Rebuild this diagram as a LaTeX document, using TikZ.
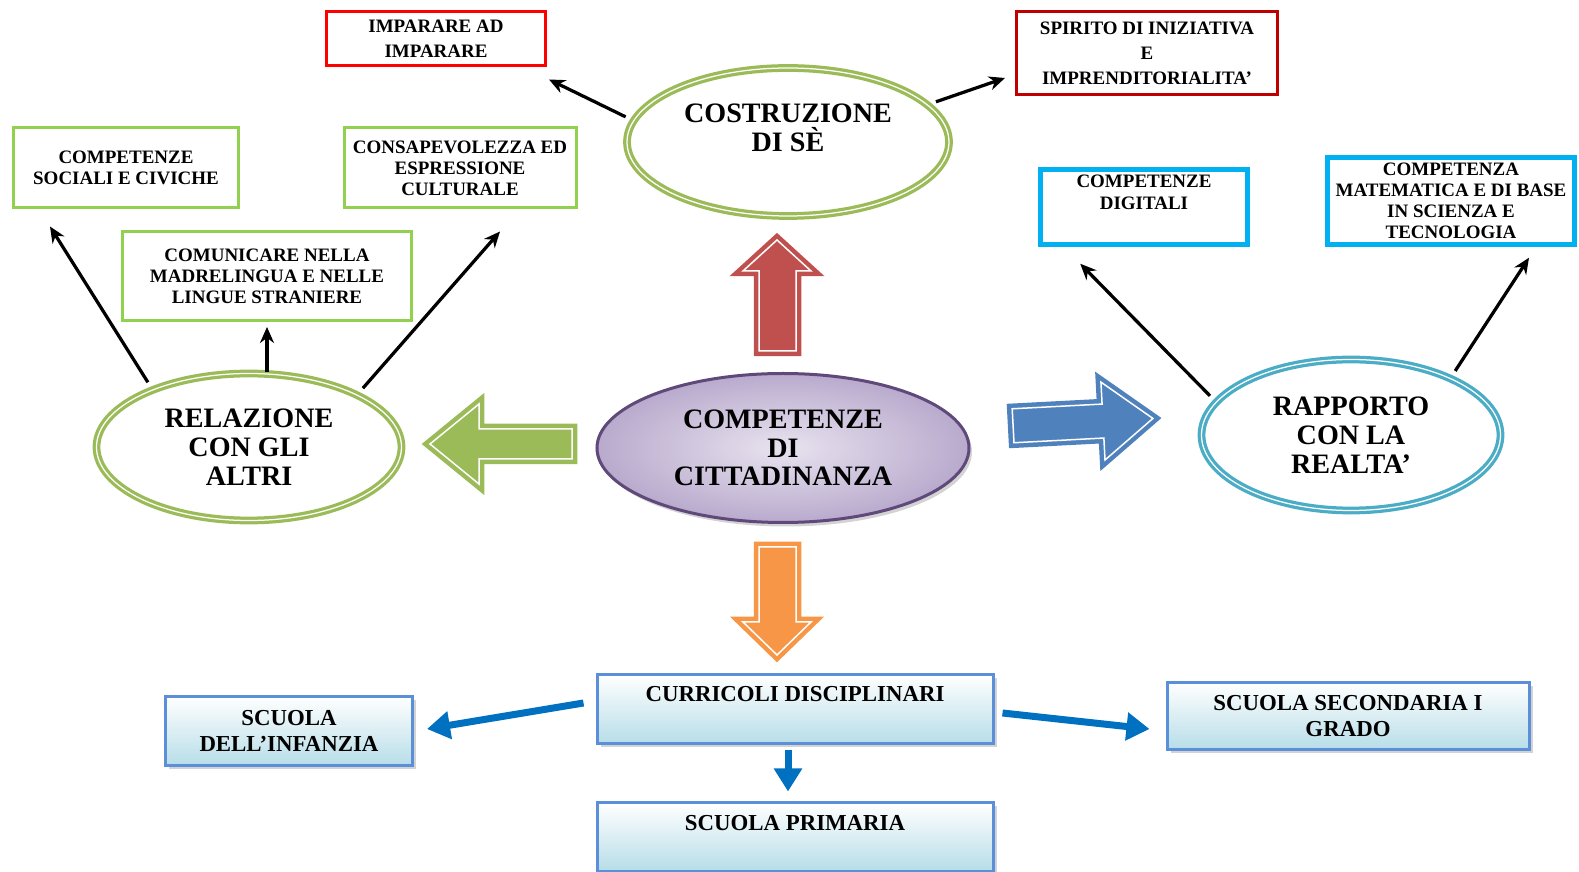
\documentclass[tikz,border=0pt]{standalone}
\usepackage{fontspec}
\setmainfont{Liberation Serif}
\usetikzlibrary{arrows.meta,shapes.geometric,shadows}

\definecolor{impred}{HTML}{FF0000}
\definecolor{spired}{HTML}{C00000}
\definecolor{boxgreen}{HTML}{92D050}
\definecolor{boxcyan}{HTML}{00B0F0}
\definecolor{ringgreen}{HTML}{9BBB59}
\definecolor{ringteal}{HTML}{4BACC6}
\definecolor{citline}{HTML}{5F497A}
\definecolor{citlight}{HTML}{E8E3EF}
\definecolor{citdark}{HTML}{B9AACD}
\definecolor{arrred}{HTML}{C0504D}
\definecolor{arrgreen}{HTML}{9BBB59}
\definecolor{arrblue}{HTML}{4F81BD}
\definecolor{arrorange}{HTML}{F79646}
\definecolor{schoolblue}{HTML}{5B8FD8}
\definecolor{schoolfill}{HTML}{B7DDE8}
\definecolor{flowblue}{HTML}{0070C0}

\newcommand{\uptext}[3]{\parbox[c][#1][t]{#2}{\centering #3}}

\tikzset{
  box/.style={draw, line width=0.6mm, inner sep=0pt, align=center,
    font=\bfseries\fontsize{10.8}{12}\selectfont},
  loose/.style={font=\bfseries\fontsize{10.8}{14.2}\selectfont},
  ring/.style={ellipse, draw=#1, line width=0.65mm, double=white, double distance=0.25mm,
    inner sep=0pt, align=center, font=\bfseries\fontsize{16}{16.4}\selectfont},
  core/.style={ellipse, draw=citline, line width=0.6mm, inner color=citlight, outer color=citdark,
    inner sep=0pt, align=center, font=\bfseries\fontsize{16}{16.4}\selectfont,
    drop shadow={shadow xshift=0.6mm, shadow yshift=-0.8mm, opacity=0.35}},
  school/.style={draw=schoolblue, line width=0.6mm, top color=white, bottom color=schoolfill,
    inner sep=0pt, align=center, font=\bfseries\fontsize{13}{14.7}\selectfont,
    drop shadow={shadow xshift=0.7mm, shadow yshift=-0.7mm, opacity=0.35}},
  link/.style={-{Stealth[length=3.2mm,width=2.8mm]}, line width=0.65mm, shorten <=1.5mm},
  flow/.style={-{Triangle[length=4.6mm,width=5.4mm]}, line width=1.4mm, draw=flowblue},
  bigarrow/.style={fill=#1, draw=#1, double=white, double distance=0.3mm, line width=0.9mm, line join=miter}
}

\begin{document}
\begin{tikzpicture}[x=0.2mm,y=-0.2mm]
\useasboundingbox (0,0) rectangle (1579,872);

\node[box, loose, draw=impred, minimum width=43.8mm, minimum height=10.8mm] (imp) at (436,39) {IMPARARE AD\\IMPARARE};
\node[box, loose, draw=spired, minimum width=52.2mm, minimum height=16.6mm] (spi) at (1147,53) {SPIRITO DI INIZIATIVA\\E\\IMPRENDITORIALITA’};
\node[box, draw=boxgreen, minimum width=45mm, minimum height=16mm] (soc) at (126,168) {COMPETENZE\\SOCIALI E CIVICHE};
\node[box, draw=boxgreen, minimum width=46.4mm, minimum height=16mm] (con) at (460,168) {CONSAPEVOLEZZA ED\\ESPRESSIONE\\CULTURALE};
\node[box, draw=boxgreen, minimum width=57.8mm, minimum height=17.8mm] (com) at (267,276) {COMUNICARE NELLA\\MADRELINGUA E NELLE\\LINGUE STRANIERE};
\node[box, draw=boxcyan, line width=0.9mm] (dig) at (1144,207) {\uptext{15mm}{41.4mm}{\rule{0pt}{3.7mm}COMPETENZE\\DIGITALI}};
\node[box, draw=boxcyan, line width=0.9mm, minimum width=49.4mm, minimum height=17.4mm] (mat) at (1451,201) {COMPETENZA\\MATEMATICA E DI BASE\\IN SCIENZA E\\TECNOLOGIA};

\node[ring=ringgreen, minimum width=64.4mm, minimum height=29.6mm] (cos) at (788,142) {COSTRUZIONE\\DI SÈ\\\mbox{}};
\node[ring=ringgreen, minimum width=61mm, minimum height=29.4mm] (rel) at (249,447) {RELAZIONE\\CON GLI\\ALTRI};
\node[ring=ringteal, minimum width=59.8mm, minimum height=30.2mm] (rap) at (1351,435) {RAPPORTO\\CON LA\\REALTA’};
\node[core, minimum width=74.4mm, minimum height=29.8mm] (cit) at (783,448) {COMPETENZE\\DI\\CITTADINANZA};

\filldraw[bigarrow=arrred] (777,240) -- (811,271) -- (796,271) -- (796,351) -- (759,351) -- (759,271) -- (743,271) -- cycle;
\filldraw[bigarrow=arrorange] (777,655) -- (811,622) -- (796,622) -- (796,547) -- (759,547) -- (759,622) -- (743,622) -- cycle;
\filldraw[bigarrow=arrgreen] (430,444) -- (479,404) -- (479,429) -- (572,429) -- (572,459) -- (479,459) -- (479,484) -- cycle;
\filldraw[bigarrow=arrblue, rotate around={3:(1085,422)}] (1153,422) -- (1103,383) -- (1103,405) -- (1013,405) -- (1013,439) -- (1103,439) -- (1103,461) -- cycle;

\draw[link] (cos.172) -- ([shift={(2,12)}]imp.south east);
\draw[link] (cos.15) -- ([shift={(-10,25)}]spi.west);
\draw[link] (rel.149) -- ([shift={(38,17)}]soc.south west);
\draw[link, shorten <=0mm] (com.south |- rel.north) -- ([shift={(0,5)}]com.south);
\draw[link] (rel.26) -- ([shift={(40,22)}]con.south);
\draw[link] (rap.166) -- ([shift={(42,17)}]dig.south west);
\draw[link] (rap.30) -- ([shift={(78,11)}]mat.south);

\node[school] (cur) at (795,709) {\uptext{13.8mm}{79.2mm}{\rule{0pt}{5.4mm}CURRICOLI DISCIPLINARI}};
\node[school, minimum width=49.4mm, minimum height=13.8mm] (inf) at (289,731) {SCUOLA\\DELL’INFANZIA};
\node[school, minimum width=72.4mm, minimum height=13.4mm] (sec) at (1348,716) {SCUOLA SECONDARIA I\\GRADO};
\node[school] (pri) at (795,837) {\uptext{13.6mm}{79.2mm}{\rule{0pt}{5.4mm}SCUOLA PRIMARIA}};

\draw[flow] ([shift={(-12,-6)}]cur.west) -- ([shift={(13,-2)}]inf.east);
\draw[flow] ([shift={(8,4)}]cur.east) -- ([shift={(-16,13)}]sec.west);
\draw[flow] ([shift={(-7,5)}]cur.south) -- ([shift={(-7,-10)}]pri.north);
\end{tikzpicture}
\end{document}
